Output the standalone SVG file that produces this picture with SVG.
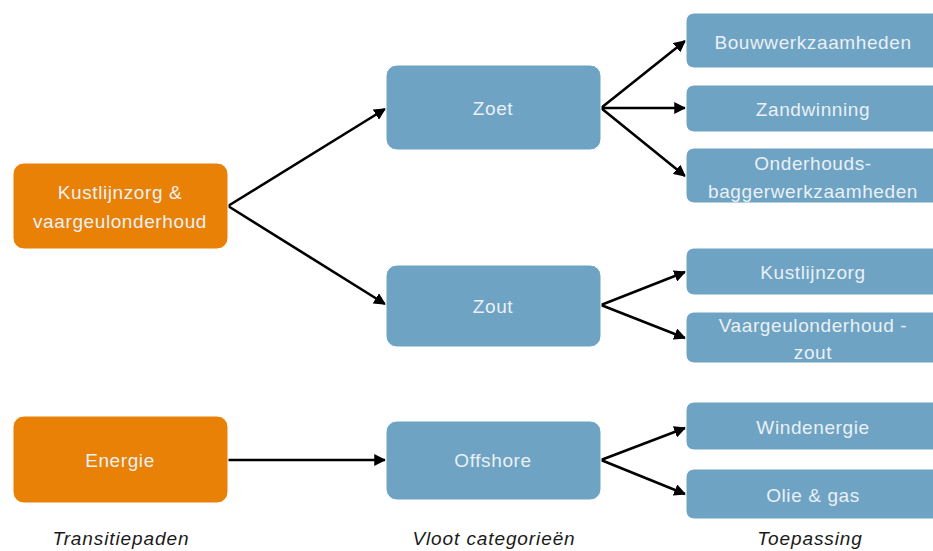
<svg xmlns="http://www.w3.org/2000/svg" width="933" height="551" viewBox="0 0 933 551">
  <style>
    .path-box { fill: #E88105; }
    .cat-box { fill: #6EA3C4; }
    .box { stroke: #ffffff; stroke-width: 1; }
    .lbl { font-family: "Liberation Sans", Arial, sans-serif; font-size: 19px; fill: #EAF0F4; text-anchor: middle; dominant-baseline: central; letter-spacing: 0.6px; }
    .cap { font-family: "Liberation Sans", Arial, sans-serif; font-size: 19px; font-style: italic; fill: #1a1a1a; text-anchor: middle; letter-spacing: 0.9px; }
    .edge { stroke: #000000; stroke-width: 2.6; fill: none; marker-end: url(#arrow); }
  </style>
  <defs>
    <marker id="arrow" viewBox="0 0 10 10" refX="9" refY="5" markerWidth="4.6" markerHeight="4.6" orient="auto" markerUnits="strokeWidth">
      <path d="M0,0 L10,5 L0,10 z" fill="#000000"/>
    </marker>
  </defs>
  <rect width="933" height="551" fill="#ffffff"/>

  <!-- connectors -->
  <g id="connectors">
    <line class="edge" x1="228" y1="206" x2="385" y2="109"/>
    <line class="edge" x1="228" y1="206" x2="385" y2="304"/>
    <line class="edge" x1="601" y1="108" x2="685" y2="41"/>
    <line class="edge" x1="601" y1="108" x2="685" y2="108"/>
    <line class="edge" x1="601" y1="108" x2="685" y2="176"/>
    <line class="edge" x1="601" y1="305" x2="685" y2="272"/>
    <line class="edge" x1="601" y1="305" x2="685" y2="338"/>
    <line class="edge" x1="228" y1="460" x2="385" y2="460"/>
    <line class="edge" x1="601" y1="460" x2="685" y2="428"/>
    <line class="edge" x1="601" y1="460" x2="685" y2="494"/>
  </g>

  <!-- transition paths -->
  <g id="kustlijnzorg-vaargeul">
    <rect class="path-box box" x="13" y="163" width="215" height="86" rx="11"/>
    <text class="lbl" x="120" y="192">Kustlijnzorg &amp;</text>
    <text class="lbl" x="120" y="221">vaargeulonderhoud</text>
  </g>
  <g id="energie">
    <rect class="path-box box" x="13" y="416" width="215" height="87" rx="11"/>
    <text class="lbl" x="120" y="460">Energie</text>
  </g>

  <!-- fleet categories -->
  <g id="zoet">
    <rect class="cat-box box" x="386" y="65" width="215" height="85" rx="11"/>
    <text class="lbl" x="493" y="108">Zoet</text>
  </g>
  <g id="zout">
    <rect class="cat-box box" x="386" y="265" width="215" height="82" rx="11"/>
    <text class="lbl" x="493" y="306">Zout</text>
  </g>
  <g id="offshore">
    <rect class="cat-box box" x="386" y="421" width="215" height="79" rx="11"/>
    <text class="lbl" x="493" y="460">Offshore</text>
  </g>

  <!-- applications -->
  <g id="bouwwerkzaamheden">
    <rect class="cat-box box" x="686" y="13" width="262" height="55" rx="8"/>
    <text class="lbl" x="813" y="42">Bouwwerkzaamheden</text>
  </g>
  <g id="zandwinning">
    <rect class="cat-box box" x="686" y="85" width="262" height="47" rx="8"/>
    <text class="lbl" x="813" y="109">Zandwinning</text>
  </g>
  <g id="onderhoudsbaggerwerk">
    <rect class="cat-box box" x="686" y="148" width="262" height="55" rx="8"/>
    <text class="lbl" x="813" y="163">Onderhouds-</text>
    <text class="lbl" x="813" y="191">baggerwerkzaamheden</text>
  </g>
  <g id="kustlijnzorg">
    <rect class="cat-box box" x="686" y="248" width="262" height="47" rx="8"/>
    <text class="lbl" x="813" y="272">Kustlijnzorg</text>
  </g>
  <g id="vaargeulonderhoud-zout">
    <rect class="cat-box box" x="686" y="312" width="262" height="51" rx="8"/>
    <text class="lbl" x="813" y="325">Vaargeulonderhoud -</text>
    <text class="lbl" x="813" y="352">zout</text>
  </g>
  <g id="windenergie">
    <rect class="cat-box box" x="686" y="402" width="262" height="48" rx="8"/>
    <text class="lbl" x="813" y="427">Windenergie</text>
  </g>
  <g id="olie-gas">
    <rect class="cat-box box" x="686" y="469" width="262" height="50" rx="8"/>
    <text class="lbl" x="813" y="495">Olie &amp; gas</text>
  </g>

  <!-- column captions -->
  <text class="cap" x="121" y="545">Transitiepaden</text>
  <text class="cap" x="494" y="545">Vloot categorieën</text>
  <text class="cap" x="810" y="545">Toepassing</text>
</svg>
